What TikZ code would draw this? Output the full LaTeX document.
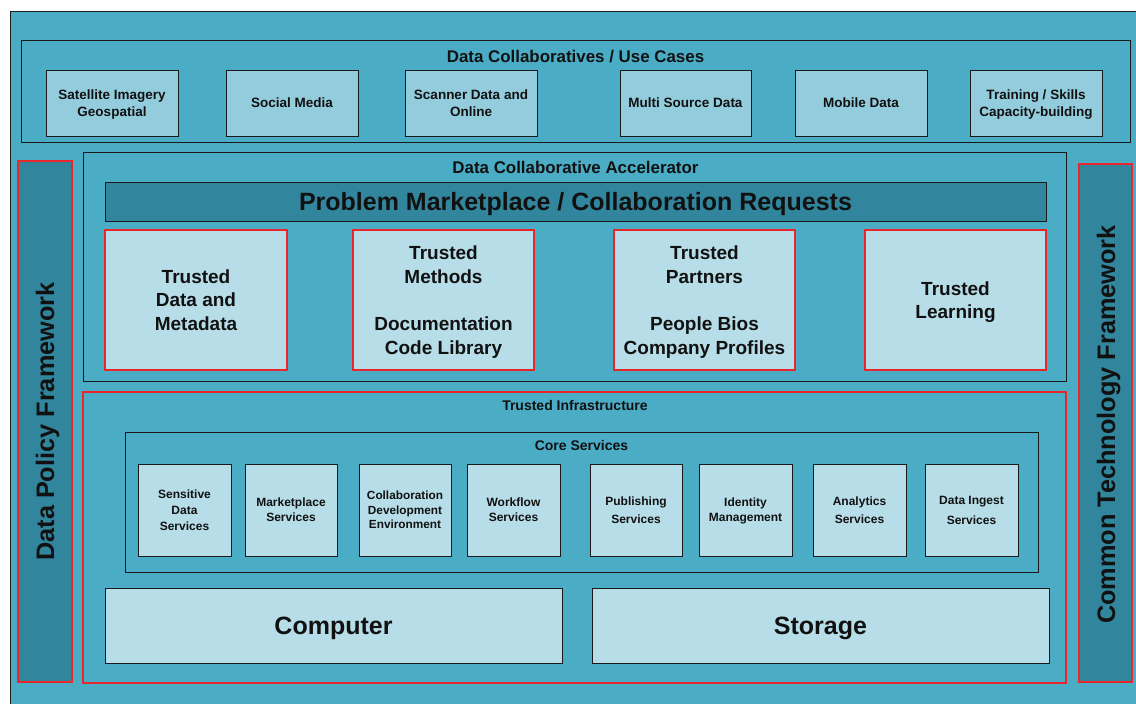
\documentclass[tikz,border=0pt]{standalone}
\usepackage{fontspec}
\setmainfont{Liberation Sans}
\definecolor{teal}{HTML}{4BACC6}
\definecolor{darkteal}{HTML}{31859C}
\definecolor{midbox}{HTML}{93CDDD}
\definecolor{lightbox}{HTML}{B7DEE8}
\definecolor{edge}{HTML}{1A1A1A}
\definecolor{redline}{HTML}{E8262B}
\definecolor{ink}{HTML}{111111}
\newcommand{\fs}[2]{\fontsize{#1}{#2}\selectfont\bfseries}
\tikzset{
  frame/.style={draw=edge, line width=1pt, fill=teal, inner sep=0pt, outer sep=0pt},
  redframe/.style={draw=redline, line width=1.5pt, fill=teal, inner sep=0pt, outer sep=0pt},
  bar/.style={draw=redline, line width=1.5pt, fill=darkteal, inner sep=0pt, outer sep=0pt},
  bartext/.style={rotate=90, inner sep=0pt, text depth=0pt, text=ink, font=\fs{25.3}{29}},
  ucbox/.style={draw=edge, line width=1pt, fill=midbox, inner sep=0pt, outer sep=0pt,
    minimum width=132pt, minimum height=66pt, align=center, text depth=0pt,
    text=ink, font=\fs{13.5}{17}},
  trustbox/.style={draw=redline, line width=1.5pt, fill=lightbox, inner sep=0pt, outer sep=0pt,
    minimum width=181pt, minimum height=140pt, align=center, text depth=0pt,
    text=ink, font=\fs{19}{23.75}},
  svcbox/.style={draw=edge, line width=1pt, fill=lightbox, inner sep=0pt, outer sep=0pt,
    minimum width=93pt, minimum height=92pt, align=center, text depth=0pt,
    text=ink, font=\fs{12}{16}},
  bigbox/.style={draw=edge, line width=1pt, fill=lightbox, inner sep=0pt, outer sep=0pt,
    minimum width=457pt, minimum height=75pt, text depth=0pt, text=ink, font=\fs{25}{30}},
  title/.style={inner sep=0pt, text depth=0pt, text=ink},
}
\begin{document}
\begin{tikzpicture}[x=1pt, y=-1pt]
\clip (0,0) rectangle (1136,704);
\fill[white] (0,0) rectangle (1136,704);

% whole canvas
\node[frame, minimum width=1140pt, minimum height=710pt, anchor=north west] (canvas) at (10,11) {};

% use cases band
\node[frame, minimum width=1109pt, minimum height=102pt] (usecases) at (575.5,91) {};
\node[title, font=\fs{16.9}{20}] (ucTitle) at (575.5,56) {Data Collaboratives / Use Cases};
\node[ucbox] (sat) at (112,103) {Satellite Imagery\\Geospatial};
\node[ucbox] (social) at (292,103) {Social Media};
\node[ucbox] (scanner) at (471,103) {Scanner Data and\\Online};
\node[ucbox, minimum width=131pt] (multi) at (685.5,103) {Multi Source Data};
\node[ucbox] (mobile) at (861,103) {Mobile Data};
\node[ucbox] (training) at (1036,103) {Training / Skills\\Capacity-building};

% side frameworks
\node[bar, minimum width=54pt, minimum height=521pt] (policy) at (45,421.5) {};
\node[bartext] (policyText) at (45,421.5) {Data Policy Framework};
\node[bar, minimum width=53pt, minimum height=518pt] (tech) at (1105.5,423) {};
\node[bartext] (techText) at (1106,424.5) {Common Technology Framework};

% accelerator
\node[frame, minimum width=983pt, minimum height=229pt] (accel) at (574.5,266.5) {};
\node[title, font=\fs{16.9}{20}] (accTitle) at (575.5,167) {Data Collaborative Accelerator};
\node[frame, fill=darkteal, minimum width=941pt, minimum height=39pt, text depth=0pt,
  text=ink, font=\fs{25}{30}] (market) at (575.5,201.5) {Problem Marketplace / Collaboration Requests};
\node[trustbox, minimum width=182pt] (tdata) at (196,300) {Trusted\\Data and\\Metadata};
\node[trustbox] (tmethods) at (443.5,300) {Trusted\\Methods\\[23.75pt]Documentation\\Code Library};
\node[trustbox] (tpartners) at (704.5,300) {Trusted\\Partners\\[23.75pt]People Bios\\Company Profiles};
\node[trustbox] (tlearning) at (955.5,300) {Trusted\\Learning};

% infrastructure
\node[redframe, minimum width=983pt, minimum height=291pt] (infra) at (574.5,537.5) {};
\node[title, font=\fs{14}{17}] (infraTitle) at (575,405) {Trusted Infrastructure};
\node[frame, minimum width=913pt, minimum height=140pt] (core) at (581.5,502) {};
\node[title, font=\fs{14}{17}] (coreTitle) at (581.5,445) {Core Services};
\node[svcbox] (sensitive) at (184.5,510) {Sensitive\\Data\\Services};
\node[svcbox, minimum width=92pt, font=\fs{12}{15}] (marketplace) at (291,510) {Marketplace\\Services};
\node[svcbox, minimum width=92pt, font=\fs{11.8}{14.3}] (collab) at (405,510) {Collaboration\\Development\\Environment};
\node[svcbox, font=\fs{12}{15}] (workflow) at (513.5,510) {Workflow\\Services};
\node[svcbox, minimum width=92pt, font=\fs{12}{18}] (publishing) at (636,510) {Publishing\\Services};
\node[svcbox, font=\fs{12}{15}] (identity) at (745.5,510) {Identity\\Management};
\node[svcbox, font=\fs{12}{18}] (analytics) at (859.5,510) {Analytics\\Services};
\node[svcbox, font=\fs{12}{20}] (ingest) at (971.5,510) {Data Ingest\\Services};
\node[bigbox] (computer) at (333.5,625.5) {Computer};
\node[bigbox] (storage) at (820.5,625.5) {Storage};
\end{tikzpicture}
\end{document}
